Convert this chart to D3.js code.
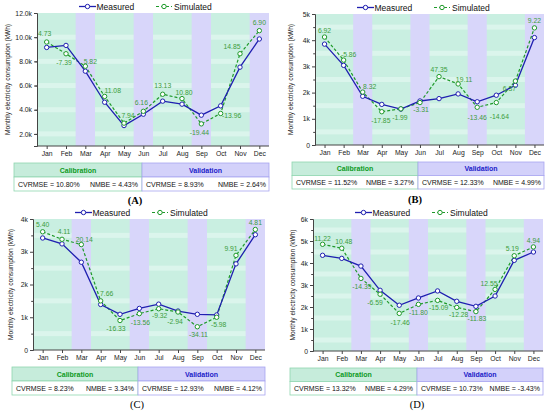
<!DOCTYPE html>
<html>
<head>
<meta charset="utf-8">
<script src="https://cdn.jsdelivr.net/npm/d3@7"></script>
<style>
  body { margin: 0; background: #fff; }
  svg { display: block; font-family: Arial, "Liberation Sans", sans-serif; }
</style>
</head>
<body>
<div id="chart"></div>
<script>
const months = ["Jan", "Feb", "Mar", "Apr", "May", "Jun", "Jul", "Aug", "Sep", "Oct", "Nov", "Dec"];
const validationMonths = ["Mar", "Jun", "Sep", "Dec"];

// kWh
const measuredA = [9150, 9320, 7190, 4620, 2690, 3630, 4710, 4460, 3550, 4320, 7520, 9850];
const simulatedA = [9600, 8630, 7600, 5100, 2890, 3870, 5280, 4920, 2830, 3690, 8630, 10540];
const errorsA = ["4.73", "-7.39", "5.82", "11.08", "7.94", "6.16", "13.13", "10.80", "-19.44", "-13.96", "14.85", "6.90"];

const measuredB = [3850, 3040, 1860, 1550, 1370, 1680, 1770, 1950, 1650, 1900, 2280, 4100];
const simulatedB = [4120, 3240, 2020, 1270, 1380, 1620, 2610, 2330, 1440, 1620, 2440, 4470];
const errorsB = ["6.92", "-5.86", "8.32", "-17.85", "-1.99", "-3.31", "47.35", "19.11", "-13.46", "-14.64", "6.37", "9.22"];

const measuredC = [3420, 3240, 2680, 1390, 1090, 1270, 1400, 1190, 1090, 1070, 2630, 3520];
const simulatedC = [3610, 3380, 3220, 1500, 900, 1110, 1260, 1160, 710, 1000, 2890, 3680];
const errorsC = ["5.40", "4.11", "20.14", "7.66", "-16.33", "-13.56", "-9.32", "-2.94", "-34.11", "-5.98", "9.91", "4.81"];

const measuredD = [4350, 4210, 3860, 2760, 2080, 2410, 2730, 2260, 2030, 2500, 4120, 4500];
const simulatedD = [4850, 4670, 3300, 2580, 1710, 2120, 2300, 1980, 1790, 2800, 4330, 4730];
const errorsD = ["11.22", "10.48", "-14.39", "-6.59", "-17.46", "-11.80", "-15.09", "-12.28", "-11.83", "12.55", "5.19", "4.94"];

const panelTags = ["(A)", "(B)", "(C)", "(D)"];
const calibCVRMSE = ["10.80", "11.52", "8.23", "13.32"];
const calibNMBE = ["4.43", "3.27", "3.34", "4.29"];
const validCVRMSE = ["8.93", "12.33", "12.93", "10.73"];
const validNMBE = ["2.64", "4.99", "4.12", "-3.43"];

const width = 550, height = 413;
const blue = "#1f1fb0", green = "#1f9a2a", labelGreen = "#3c9d3c";
const bgGreen = "#c9efe1", bgStripe = "#dbf5ec", bgPurple = "#d8d6fa";

// where each panel sits, and how its y axis runs
const panels = [
  {measured: measuredA, simulated: simulatedA, errors: errorsA,
   plot: [37, 269, 13, 146], ydom: [1000, 12000], major: 2000, fmt: d => (d / 1000).toFixed(1) + "k",
   table: [14, 269, 163, 191, 142], tag: [135, 200], bold: true, titleX: 7,
   offs: [[-2,-9],[-2,9],[5,-5],[8,-6],[4,-8],[-2,-9],[0,-9],[2,-6],[-2,9],[11,2],[-8,-7],[0,-8]]},
  {measured: measuredB, simulated: simulatedB, errors: errorsB,
   plot: [315, 544, 14, 145], ydom: [0, 5000], major: 1000, fmt: d => d === 0 ? "0" : (d / 1000) + "k",
   table: [292, 544, 162, 189, 418], tag: [415, 199], bold: true, titleX: 290,
   offs: [[0,-7],[5,-6],[7,-6],[-1,9],[-1,9],[1,7],[0,-7],[6,-4],[0,10],[3,14],[-6,7],[0,-7]]},
  {measured: measuredC, simulated: simulatedC, errors: errorsC,
   plot: [33, 265, 219, 350], ydom: [0, 4000], major: 1000, fmt: d => d === 0 ? "0" : (d / 1000) + "k",
   table: [12, 265, 367, 395, 138], tag: [137, 404], bold: false, titleX: 10,
   offs: [[0,-7],[2,-8],[3,-5],[6,-7],[-4,8],[1,9],[1,7],[-3,9],[1,8],[2,7],[-5,-7],[0,-7]]},
  {measured: measuredD, simulated: simulatedD, errors: errorsD,
   plot: [313, 543, 219, 351], ydom: [0, 6000], major: 1000, fmt: d => d === 0 ? "0" : (d / 1000) + "k",
   table: [290, 543, 368, 395, 417], tag: [417, 404], bold: false, titleX: 292,
   offs: [[0,-6],[2,-7],[1,8],[-5,8],[1,9],[0,8],[1,7],[2,7],[1,7],[-6,-6],[-2,-7],[0,-6]]}
];

const svg = d3.select("#chart").append("svg")
  .attr("width", width)
  .attr("height", height);

panels.forEach((p, pi) => {
  const [x0, x1, y0, y1] = p.plot;
  const g = svg.append("g");

  const x = d3.scalePoint().domain(months).range([x0, x1]).padding(0.5);
  const step = x.step();
  const y = d3.scaleLinear().domain(p.ydom).range([y1, y0]);
  const minorTicks = d3.range(p.ydom[0] + p.major / 2, p.ydom[1], p.major);
  const majorTicks = d3.range(Math.ceil(p.ydom[0] / p.major) * p.major, p.ydom[1] + 1, p.major)
    .filter(v => v > p.ydom[0] || p.ydom[0] === 0);

  // background: green calibration, lighter stripes, purple validation months
  g.append("rect").attr("x", x0).attr("y", y0).attr("width", x1 - x0).attr("height", y1 - y0)
    .attr("fill", bgGreen);
  g.selectAll(".stripe").data(minorTicks).enter().append("rect")
    .attr("x", x0).attr("width", x1 - x0)
    .attr("y", d => y(d) - 2.5).attr("height", 5)
    .attr("fill", bgStripe);
  g.selectAll(".vband").data(validationMonths).enter().append("rect")
    .attr("x", d => x(d) - step / 2).attr("width", step)
    .attr("y", y0).attr("height", y1 - y0)
    .attr("fill", bgPurple);

  // axes
  const yAxis = g.append("g").attr("transform", `translate(${x0},0)`)
    .call(d3.axisLeft(y).tickValues(majorTicks).tickFormat(p.fmt).tickSize(3).tickPadding(2));
  yAxis.selectAll(".tick line").attr("stroke", "#444");
  yAxis.select(".domain").attr("stroke", "#444");
  yAxis.selectAll("text").attr("font-size", 6.8).attr("fill", "#222");
  g.append("g").attr("transform", `translate(${x0},0)`)
    .call(d3.axisLeft(y).tickValues(minorTicks).tickFormat("").tickSize(1.8))
    .call(a => a.select(".domain").remove())
    .selectAll("line").attr("stroke", "#444");

  const xAxis = g.append("g").attr("transform", `translate(0,${y1})`)
    .call(d3.axisBottom(x).tickSize(3).tickSizeOuter(0).tickPadding(2));
  xAxis.select(".domain").attr("stroke", "#444").attr("d", `M${x0},0H${x1}`);
  xAxis.selectAll(".tick line").attr("stroke", "#444");
  xAxis.selectAll("text").attr("font-size", 6.8).attr("fill", "#222");

  g.append("text")
    .attr("transform", `translate(${p.titleX},${(y0 + y1) / 2}) rotate(-90)`)
    .attr("text-anchor", "middle").attr("dominant-baseline", "central")
    .attr("font-size", 6.6).attr("fill", "#222")
    .text("Monthly electricity consumption (kWh)");

  // lines
  const line = d3.line().x((d, i) => x(months[i])).y(d => y(d));
  g.append("path").datum(p.simulated).attr("d", line)
    .attr("fill", "none").attr("stroke", green).attr("stroke-width", 1.2)
    .attr("stroke-dasharray", "3,2");
  g.append("path").datum(p.measured).attr("d", line)
    .attr("fill", "none").attr("stroke", blue).attr("stroke-width", 1.3);

  g.selectAll(".ms").data(p.measured).enter().append("circle")
    .attr("cx", (d, i) => x(months[i])).attr("cy", d => y(d)).attr("r", 2.2)
    .attr("fill", "#fff").attr("stroke", blue).attr("stroke-width", 1);
  g.selectAll(".sm").data(p.simulated).enter().append("circle")
    .attr("cx", (d, i) => x(months[i])).attr("cy", d => y(d)).attr("r", 2.2)
    .attr("fill", "#fff").attr("stroke", green).attr("stroke-width", 1);

  g.selectAll(".err").data(p.errors).enter().append("text")
    .attr("x", (d, i) => x(months[i]) + p.offs[i][0])
    .attr("y", (d, i) => y(p.simulated[i]) + p.offs[i][1])
    .attr("text-anchor", "middle").attr("dominant-baseline", "central")
    .attr("font-size", 6.8).attr("fill", labelGreen)
    .text(d => d);

  // legend
  const ly = y0 - 6.5;
  const lm = x0 + 42, ls = x0 + 119;
  g.append("line").attr("x1", lm).attr("x2", lm + 17).attr("y1", ly).attr("y2", ly)
    .attr("stroke", blue).attr("stroke-width", 1.3);
  g.append("circle").attr("cx", lm + 8.5).attr("cy", ly).attr("r", 2.2)
    .attr("fill", "#fff").attr("stroke", blue);
  g.append("text").attr("x", lm + 17.5).attr("y", ly).attr("dominant-baseline", "central")
    .attr("font-size", 8.5).attr("fill", "#111").text("Measured");
  g.append("line").attr("x1", ls).attr("x2", ls + 16).attr("y1", ly).attr("y2", ly)
    .attr("stroke", green).attr("stroke-width", 1.2).attr("stroke-dasharray", "3,2");
  g.append("circle").attr("cx", ls + 8).attr("cy", ly).attr("r", 2.2)
    .attr("fill", "#fff").attr("stroke", green);
  g.append("text").attr("x", ls + 18).attr("y", ly).attr("dominant-baseline", "central")
    .attr("font-size", 8.5).attr("fill", "#111").text("Simulated");

  // stats table
  const [tx0, tx1, ty0, ty1, tsp] = p.table;
  const tm = (ty0 + ty1) / 2;
  g.append("rect").attr("x", tx0).attr("y", ty0).attr("width", tsp - tx0).attr("height", tm - ty0)
    .attr("fill", "#c6ecdb").attr("stroke", "#8fd6b0").attr("stroke-width", 0.8);
  g.append("rect").attr("x", tsp).attr("y", ty0).attr("width", tx1 - tsp).attr("height", tm - ty0)
    .attr("fill", "#d3d1fa").attr("stroke", "#a9a5f0").attr("stroke-width", 0.8);
  g.append("rect").attr("x", tx0).attr("y", tm).attr("width", tsp - tx0).attr("height", ty1 - tm)
    .attr("fill", "#fff").attr("stroke", "#8fd6b0").attr("stroke-width", 0.8);
  g.append("rect").attr("x", tsp).attr("y", tm).attr("width", tx1 - tsp).attr("height", ty1 - tm)
    .attr("fill", "#fff").attr("stroke", "#a9a5f0").attr("stroke-width", 0.8);

  g.append("text").attr("x", (tx0 + tsp) / 2).attr("y", (ty0 + tm) / 2)
    .attr("text-anchor", "middle").attr("dominant-baseline", "central")
    .attr("font-size", 7).attr("font-weight", "bold").attr("fill", "#0d9a1d").text("Calibration");
  g.append("text").attr("x", (tsp + tx1) / 2).attr("y", (ty0 + tm) / 2)
    .attr("text-anchor", "middle").attr("dominant-baseline", "central")
    .attr("font-size", 7).attr("font-weight", "bold").attr("fill", "#2020c8").text("Validation");

  const ry = (tm + ty1) / 2;
  const cells = [
    [tx0 + 4, "start", `CVRMSE = ${calibCVRMSE[pi]}%`],
    [tsp - 4, "end", `NMBE = ${calibNMBE[pi]}%`],
    [tsp + 4, "start", `CVRMSE = ${validCVRMSE[pi]}%`],
    [tx1 - 3, "end", `NMBE = ${validNMBE[pi]}%`]
  ];
  cells.forEach(c => {
    g.append("text").attr("x", c[0]).attr("y", ry)
      .attr("text-anchor", c[1]).attr("dominant-baseline", "central")
      .attr("font-size", 7).attr("fill", "#111").text(c[2]);
  });

  g.append("text").attr("x", p.tag[0]).attr("y", p.tag[1])
    .attr("text-anchor", "middle").attr("dominant-baseline", "central")
    .attr("font-family", "'Liberation Serif', 'DejaVu Serif', serif")
    .attr("font-size", 10.5).attr("font-weight", p.bold ? "bold" : "normal")
    .attr("fill", "#000").text(panelTags[pi]);
});
</script>
</body>
</html>
